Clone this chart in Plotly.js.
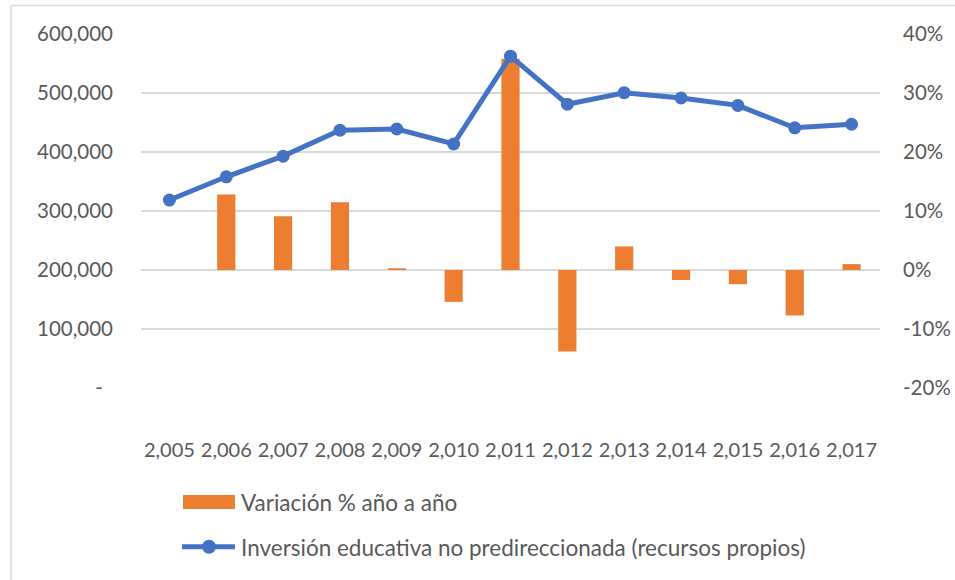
<!DOCTYPE html>
<html>
<head>
<meta charset="utf-8">
<script src="https://cdn.plot.ly/plotly-3.0.1.min.js"></script>
<style>html,body{margin:0;padding:0;background:#fff;}#chart{width:955px;height:580px;}</style>
</head>
<body>
<div id="chart"></div>
<script>
// Data
var years = ["2,005","2,006","2,007","2,008","2,009","2,010","2,011","2,012","2,013","2,014","2,015","2,016","2,017"];
var inversion = [318600, 358000, 393000, 437000, 439000, 413600, 562500, 481000, 500500, 491500, 479000, 441000, 447000];
var variacion = [null, 0.128, 0.091, 0.115, 0.003, -0.054, 0.358, -0.138, 0.040, -0.017, -0.024, -0.077, 0.010];
var leftTickVals = [0, 100000, 200000, 300000, 400000, 500000, 600000];
var leftTickText = ["-\u2002", "100,000", "200,000", "300,000", "400,000", "500,000", "600,000"];
var rightTickVals = [-0.2, -0.1, 0, 0.1, 0.2, 0.3, 0.4];
var rightTickText = ["-20%", "-10%", "0%", "10%", "20%", "30%", "40%"];
var seriesNames = ["Variación % año a año", "Inversión educativa no predireccionada (recursos propios)"];

var orange = "#ED7D31", blue = "#4472C4", txt = "#595959", grid = "#D9D9D9";
var FONT = "Lato, 'Open Sans', sans-serif";

var traces = [
  {type: "bar", x: years, y: variacion, yaxis: "y", name: seriesNames[0],
   marker: {color: orange}, hoverinfo: "skip"},
  {type: "scatter", mode: "lines+markers", x: years, y: inversion, yaxis: "y2", name: seriesNames[1],
   line: {color: blue, width: 5}, marker: {color: blue, size: 13}, hoverinfo: "skip"}
];

// legend geometry in paper coords (plot area 141..880 x, 34..388 y)
function px(x){ return (x - 141) / 739; }
function py(y){ return (388 - y) / 354; }

var layout = {
  width: 955, height: 580,
  margin: {l: 141, r: 75, t: 34, b: 192, pad: 0},
  paper_bgcolor: "#fff", plot_bgcolor: "#fff",
  font: {family: FONT, color: txt, size: 20},
  showlegend: false,
  bargap: 0.68,
  xaxis: {type: "category", range: [-0.5, 12.5], showgrid: false, showline: false, zeroline: false,
          ticks: "", ticklabelstandoff: 48, tickangle: 0, tickfont: {size: 20, color: txt, family: FONT}},
  yaxis: {side: "right", range: [-0.2, 0.4], tickvals: rightTickVals, ticktext: rightTickText,
          showgrid: true, gridcolor: grid, gridwidth: 1.3, zeroline: false, showline: false, ticks: "",
          ticklabelstandoff: 22, tickfont: {size: 20.5, color: txt, family: FONT}},
  yaxis2: {side: "left", overlaying: "y", range: [0, 600000], tickvals: leftTickVals, ticktext: leftTickText,
           showgrid: false, zeroline: false, showline: false, ticks: "",
           ticklabelstandoff: 27, tickfont: {size: 20.5, color: txt, family: FONT}},
  shapes: [
    {type: "line", xref: "paper", yref: "paper", x0: px(11), x1: px(955), y0: py(5.5), y1: py(5.5),
     line: {color: grid, width: 1.5}},
    {type: "line", xref: "paper", yref: "paper", x0: px(11), x1: px(11), y0: py(5.5), y1: py(582),
     line: {color: grid, width: 1.5}},
    {type: "rect", xref: "paper", yref: "paper", x0: px(183), x1: px(235), y0: py(509), y1: py(495),
     fillcolor: orange, line: {width: 0}},
    {type: "line", xref: "paper", yref: "paper", x0: px(182), x1: px(235), y0: py(546.7), y1: py(546.7),
     line: {color: blue, width: 5}},
    {type: "circle", xref: "paper", yref: "paper", x0: px(202), x1: px(216), y0: py(553.7), y1: py(539.7),
     fillcolor: blue, line: {width: 0}}
  ],
  annotations: [
    {xref: "paper", yref: "paper", x: px(239), y: py(502), xanchor: "left", yanchor: "middle",
     text: seriesNames[0], showarrow: false, font: {size: 22.5, color: txt, family: FONT}},
    {xref: "paper", yref: "paper", x: px(239), y: py(547), xanchor: "left", yanchor: "middle",
     text: seriesNames[1], showarrow: false, font: {size: 22.5, color: txt, family: FONT}}
  ]
};

Plotly.newPlot("chart", traces, layout, {staticPlot: true, displayModeBar: false});
</script>
</body>
</html>
